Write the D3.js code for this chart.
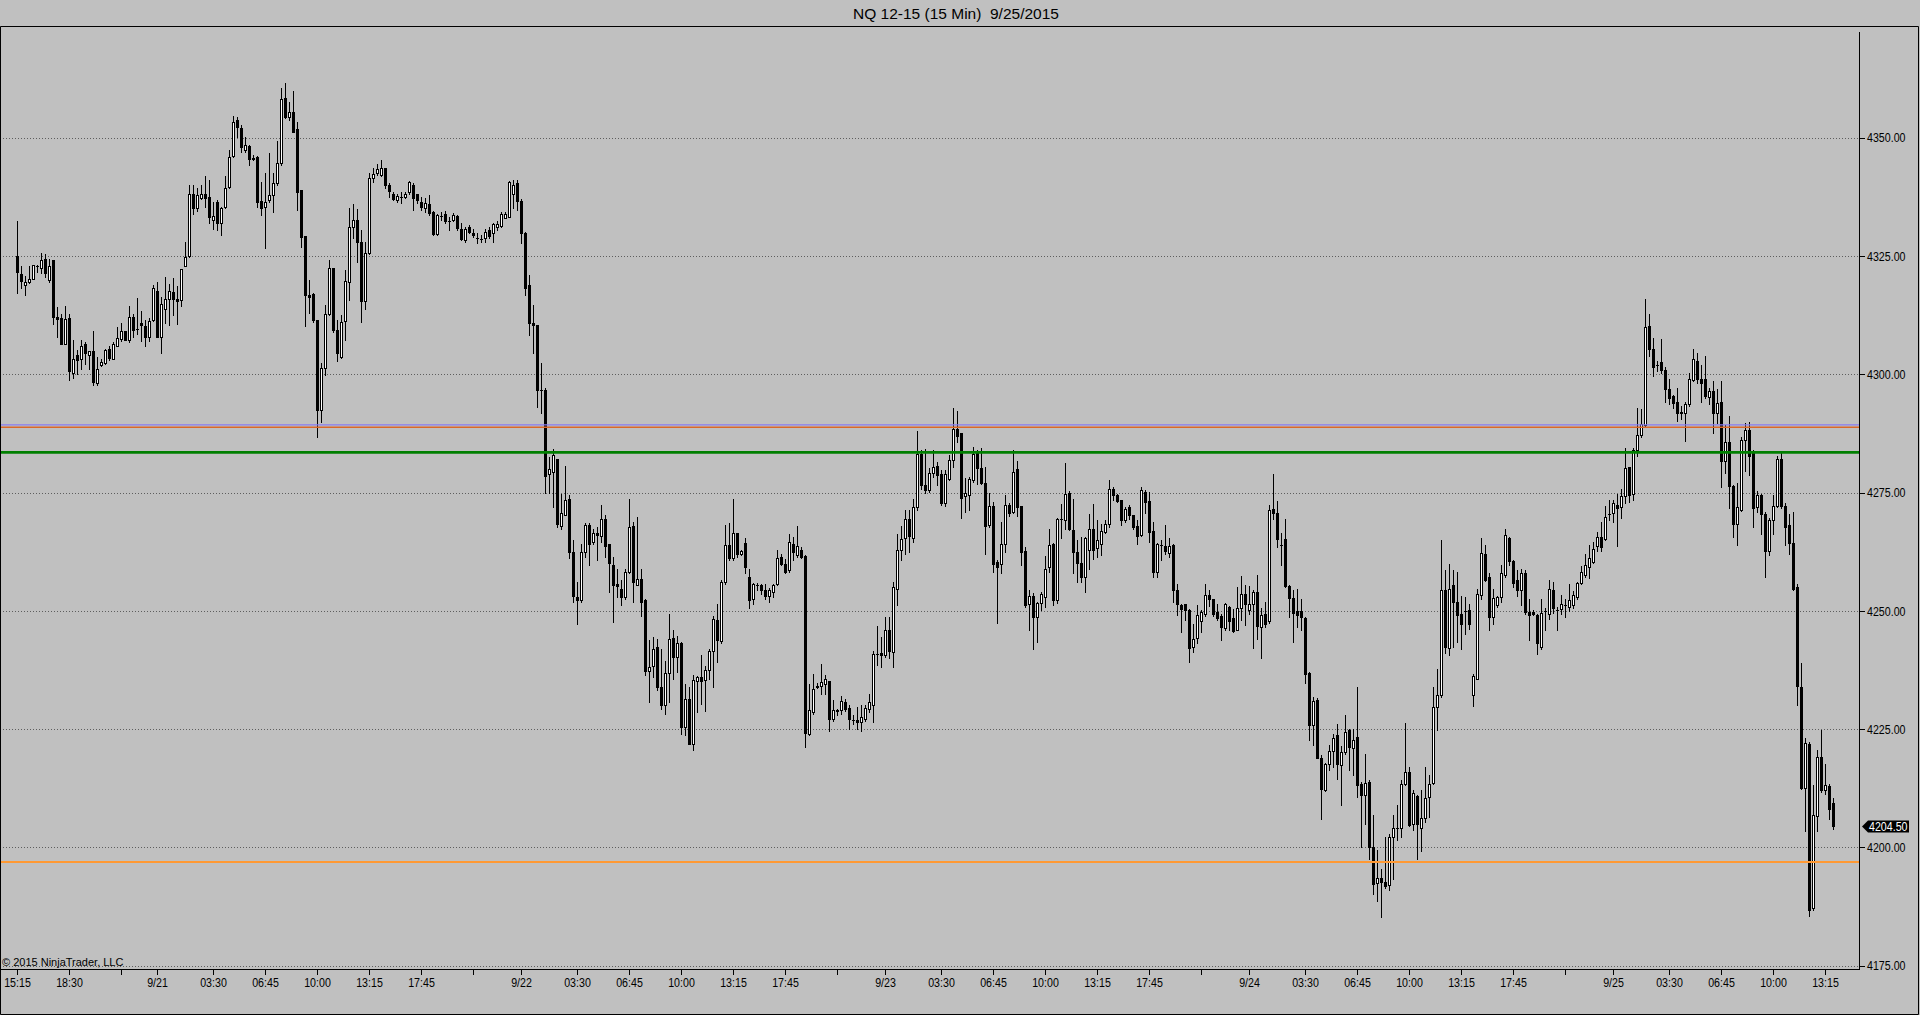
<!DOCTYPE html>
<html><head><meta charset="utf-8">
<script src="https://cdn.jsdelivr.net/npm/d3@7"></script>
<style>html,body{margin:0;padding:0;background:#c0c0c0;overflow:hidden}svg{display:block}text{white-space:pre}</style>
</head><body>
<svg id="chart" width="1920" height="1015"></svg>
<script>
const chartTitle = "NQ 12-15 (15 Min)  9/25/2015";
const copyright = "\u00A9 2015 NinjaTrader, LLC";
const lastPrice = 4204.50;
const priceTicks = [4175, 4200, 4225, 4250, 4275, 4300, 4325, 4350];
const tickBars = [0,13,26,35,49,62,75,88,101,114,126,140,153,166,179,192,205,217,231,244,257,270,283,296,308,322,335,348,361,374,387,399,413,426,439,452];
const tickLabels = ["15:15","18:30","","9/21","03:30","06:45","10:00","13:15","17:45","","9/22","03:30","06:45","10:00","13:15","17:45","","9/23","03:30","06:45","10:00","13:15","17:45","","9/24","03:30","06:45","10:00","13:15","17:45","","9/25","03:30","06:45","10:00","13:15"];
const levelValues = [4289.3, 4288.8, 4283.5, 4196.9];

const opens = [
4325.0,4321.1,4318.9,4319.4,4320.1,4322.8,4322.4,4324.4,4319.9,4324.1,
4312.1,4311.8,4306.3,4311.9,4300.3,4304.0,4303.2,4306.3,4304.0,4304.9,
4298.2,4302.0,4302.4,4305.3,4303.2,4306.0,4307.5,4309.1,4307.3,4312.1,
4309.6,4310.8,4310.2,4307.9,4311.4,4317.6,4307.8,4313.9,4315.9,4317.3,
4316.0,4315.6,4322.8,4324.9,4338.1,4335.1,4337.2,4338.2,4337.5,4332.7,
4336.5,4331.9,4335.4,4339.6,4346.2,4353.7,4352.0,4347.4,4348.3,4345.8,
4346.0,4336.6,4335.4,4336.8,4337.9,4340.4,4344.6,4358.3,4354.3,4355.4,
4351.8,4338.9,4329.2,4316.8,4317.0,4311.5,4292.5,4301.3,4312.8,4322.4,
4309.4,4303.7,4311.2,4319.6,4331.1,4332.7,4328.0,4315.4,4325.7,4341.4,
4342.5,4342.1,4343.5,4340.1,4338.2,4336.8,4337.5,4337.5,4338.5,4340.0,
4338.0,4336.5,4335.2,4336.0,4334.4,4329.6,4333.5,4333.9,4332.4,4332.6,
4333.5,4330.7,4328.4,4331.1,4329.9,4328.7,4328.5,4328.7,4330.5,4329.9,
4331.1,4331.3,4333.0,4333.3,4338.2,4340.4,4336.6,4329.8,4318.9,4310.8,
4310.4,4296.7,4296.7,4278.9,4279.4,4282.0,4267.9,4270.3,4273.6,4262.4,
4252.9,4252.2,4262.4,4268.1,4264.6,4266.5,4265.8,4269.5,4264.1,4259.6,
4255.7,4254.7,4252.9,4258.2,4267.9,4255.5,4256.7,4252.2,4237.3,4238.3,
4242.3,4234.0,4230.2,4236.8,4244.3,4240.2,4243.3,4225.4,4231.3,4221.8,
4235.2,4236.1,4235.3,4237.6,4241.5,4248.0,4243.6,4256.1,4264.0,4261.2,
4266.5,4262.0,4264.4,4257.2,4252.6,4255.5,4255.5,4254.5,4253.1,4254.0,
4255.7,4261.4,4260.0,4258.6,4264.2,4261.9,4262.8,4261.5,4224.0,4228.6,
4233.8,4234.1,4234.6,4235.2,4227.2,4229.1,4229.1,4230.8,4229.5,4227.0,
4227.0,4226.5,4227.2,4229.3,4230.2,4240.8,4241.1,4240.6,4246.0,4241.3,
4254.7,4262.8,4265.3,4269.5,4265.3,4272.0,4283.1,4276.6,4275.6,4279.2,
4280.6,4278.9,4272.8,4277.8,4281.8,4288.5,4287.5,4274.2,4274.4,4277.6,
4283.3,4280.1,4277.0,4268.1,4272.1,4260.3,4259.8,4264.1,4272.3,4270.9,
4279.9,4272.1,4262.7,4251.4,4253.1,4248.6,4251.7,4253.0,4259.3,4264.2,
4252.2,4269.5,4269.3,4274.9,4267.0,4262.5,4260.1,4257.2,4262.9,4267.4,
4263.2,4264.1,4266.7,4268.3,4275.8,4274.4,4273.4,4269.2,4272.0,4270.2,
4267.9,4266.0,4275.1,4273.2,4266.9,4258.2,4263.9,4263.7,4262.2,4263.9,
4254.5,4251.2,4251.4,4250.1,4242.4,4244.3,4247.9,4249.3,4253.3,4252.4,
4249.8,4248.9,4246.3,4250.8,4248.4,4246.0,4250.7,4253.5,4250.1,4251.4,
4254.0,4246.5,4249.3,4247.9,4271.6,4270.6,4264.0,4265.1,4255.2,4252.8,
4250.0,4249.9,4248.4,4236.9,4225.8,4231.2,4218.8,4212.2,4217.7,4220.4,
4223.7,4217.4,4220.2,4224.8,4221.1,4223.3,4213.3,4211.0,4213.8,4200.1,
4192.4,4193.6,4192.7,4192.0,4202.3,4204.2,4204.2,4213.5,4215.9,4205.0,
4210.8,4204.0,4206.3,4210.7,4213.6,4229.6,4232.2,4254.5,4242.2,4255.4,
4251.9,4249.4,4250.0,4250.1,4232.2,4235.7,4253.3,4262.1,4257.2,4248.6,
4251.2,4253.0,4257.5,4265.5,4260.6,4256.6,4254.5,4257.9,4249.8,4249.8,
4249.1,4242.4,4250.0,4249.4,4254.3,4250.1,4250.3,4251.2,4250.9,4251.2,
4252.9,4255.8,4257.6,4259.3,4260.4,4263.6,4265.6,4265.2,4270.5,4270.7,
4272.4,4272.0,4274.2,4280.4,4274.8,4284.0,4287.1,4289.3,4310.2,4305.3,
4302.0,4302.5,4300.9,4296.8,4295.4,4294.1,4292.1,4291.9,4293.7,4298.8,
4302.9,4299.1,4298.9,4295.3,4296.5,4291.8,4294.1,4281.6,4285.6,4276.3,
4268.4,4271.3,4286.2,4288.3,4283.6,4272.0,4274.4,4270.5,4262.6,4269.1,
4272.2,4282.1,4272.2,4268.1,4264.3,4255.1,4233.9,4212.6,4221.8,4187.2,
4206.7,4219.2,4212.2,4212.9,4209.4];

const highs = [
4332.4,4322.9,4320.7,4322.8,4323.0,4323.2,4325.7,4325.5,4324.4,4324.1,
4314.2,4312.8,4314.4,4312.8,4307.3,4305.1,4307.2,4306.8,4304.9,4309.1,
4303.7,4303.2,4305.4,4306.0,4306.8,4310.0,4310.8,4309.1,4314.4,4312.8,
4316.2,4313.4,4311.4,4311.8,4318.8,4319.5,4316.3,4320.5,4319.1,4320.3,
4318.6,4322.3,4328.0,4340.0,4340.0,4339.3,4340.0,4341.8,4341.1,4336.5,
4336.8,4335.4,4341.8,4347.5,4354.6,4354.4,4352.7,4350.2,4348.5,4346.3,
4346.1,4340.7,4342.5,4346.7,4342.5,4349.2,4360.4,4361.6,4357.6,4359.9,
4353.4,4338.9,4329.2,4319.9,4317.1,4311.5,4302.3,4314.6,4324.2,4322.4,
4311.5,4312.5,4322.0,4335.1,4336.0,4334.9,4330.5,4328.0,4342.5,4343.5,
4344.4,4345.3,4343.7,4340.4,4338.6,4338.2,4338.6,4338.6,4340.9,4340.4,
4338.2,4337.5,4337.2,4337.9,4334.6,4333.9,4334.4,4334.6,4333.3,4334.0,
4333.7,4331.9,4331.2,4331.5,4330.8,4329.8,4329.4,4330.8,4331.2,4332.0,
4332.3,4334.2,4334.2,4340.9,4341.1,4341.1,4337.0,4330.1,4321.0,4314.6,
4310.5,4302.3,4297.0,4282.5,4284.3,4282.0,4274.6,4280.6,4274.4,4264.9,
4256.1,4264.2,4268.6,4268.6,4267.4,4267.7,4272.3,4270.3,4264.2,4261.4,
4258.9,4256.5,4258.9,4273.6,4268.8,4269.9,4258.9,4252.6,4243.8,4244.5,
4244.1,4242.0,4239.5,4249.3,4246.0,4244.6,4243.4,4234.6,4233.9,4236.4,
4236.3,4240.6,4238.3,4242.0,4249.0,4251.5,4256.5,4268.1,4268.6,4273.7,
4266.5,4262.9,4265.3,4258.9,4255.9,4255.9,4255.7,4255.7,4254.9,4255.7,
4262.8,4262.1,4261.0,4266.3,4265.6,4267.9,4263.5,4261.7,4234.6,4236.6,
4234.8,4238.8,4236.4,4235.2,4231.1,4229.3,4232.1,4231.4,4230.0,4227.9,
4229.7,4230.0,4230.0,4232.5,4241.6,4246.9,4244.5,4248.7,4248.7,4256.1,
4266.3,4267.9,4271.3,4271.3,4273.7,4288.0,4284.0,4284.3,4280.1,4284.1,
4281.5,4279.7,4279.7,4282.9,4292.8,4292.3,4287.5,4278.0,4278.3,4284.7,
4284.1,4284.5,4280.4,4274.9,4273.0,4260.7,4268.8,4274.4,4272.7,4284.1,
4281.7,4272.1,4263.5,4254.3,4253.8,4251.9,4254.0,4261.5,4267.4,4264.4,
4269.7,4272.5,4281.3,4275.3,4273.7,4264.9,4265.6,4265.6,4270.4,4272.5,
4269.3,4268.4,4269.3,4277.6,4276.2,4274.6,4273.4,4272.0,4272.3,4270.2,
4269.2,4276.2,4275.6,4275.1,4268.8,4264.4,4264.9,4268.2,4265.5,4264.1,
4255.6,4251.4,4251.5,4250.3,4247.3,4251.2,4250.1,4255.6,4254.5,4252.6,
4251.5,4249.3,4251.7,4251.0,4250.3,4255.1,4257.3,4255.4,4255.2,4254.5,
4257.5,4250.5,4251.9,4272.3,4279.0,4273.2,4266.5,4269.5,4255.4,4254.5,
4254.7,4252.4,4248.7,4237.1,4231.8,4231.5,4219.5,4217.8,4221.6,4223.9,
4226.0,4221.4,4227.9,4225.1,4225.1,4233.9,4213.8,4219.8,4214.2,4206.8,
4199.4,4195.5,4202.2,4202.8,4206.8,4208.9,4214.3,4226.2,4217.0,4212.2,
4211.0,4212.1,4217.0,4215.3,4233.9,4237.8,4264.9,4258.7,4260.0,4258.7,
4258.2,4253.1,4253.0,4251.5,4236.7,4254.7,4265.3,4263.9,4258.0,4254.7,
4253.1,4259.6,4267.4,4265.6,4260.8,4258.6,4258.9,4258.7,4252.6,4250.1,
4249.4,4252.6,4250.5,4256.6,4256.0,4250.8,4253.4,4252.5,4255.7,4254.2,
4256.0,4259.5,4262.0,4263.9,4264.6,4266.7,4268.7,4272.2,4273.5,4273.5,
4274.6,4275.7,4284.5,4280.5,4284.5,4292.8,4292.6,4316.0,4312.8,4307.7,
4302.9,4307.5,4301.6,4298.9,4295.6,4297.0,4293.3,4294.1,4300.3,4305.3,
4304.6,4302.0,4303.8,4297.2,4298.5,4296.8,4298.5,4289.3,4291.1,4276.6,
4277.0,4286.7,4289.7,4290.0,4284.1,4275.3,4274.8,4270.9,4269.6,4274.4,
4282.7,4283.3,4272.8,4270.5,4270.9,4255.6,4238.9,4223.1,4222.2,4213.1,
4220.5,4224.9,4217.6,4213.5,4210.4];

const lows = [
4317.2,4318.3,4316.8,4319.2,4320.1,4321.6,4321.4,4320.6,4319.5,4310.6,
4307.9,4306.3,4306.3,4298.7,4299.3,4300.0,4301.2,4302.1,4301.2,4297.8,
4297.7,4301.8,4302.2,4303.0,4303.2,4306.0,4307.0,4307.3,4306.8,4307.9,
4308.6,4307.0,4306.0,4307.1,4311.3,4307.9,4304.6,4310.8,4310.4,4312.6,
4310.6,4314.4,4322.8,4324.7,4333.9,4334.6,4337.0,4335.4,4331.9,4330.8,
4330.5,4329.4,4335.1,4339.3,4346.0,4350.2,4347.0,4347.0,4344.2,4345.3,
4335.4,4333.7,4326.6,4336.5,4334.4,4340.0,4344.2,4354.1,4353.7,4351.1,
4334.7,4327.0,4310.1,4312.9,4311.1,4286.8,4290.0,4299.9,4312.5,4309.0,
4302.7,4303.4,4307.3,4315.7,4328.7,4323.8,4311.1,4313.9,4325.5,4340.7,
4342.1,4341.8,4339.3,4337.5,4336.8,4336.5,4336.1,4337.3,4338.2,4334.7,
4336.1,4334.7,4334.4,4333.7,4329.4,4329.4,4332.7,4331.9,4330.5,4332.3,
4330.5,4328.4,4328.0,4329.8,4329.1,4327.7,4328.0,4328.0,4328.7,4328.0,
4330.5,4331.2,4333.0,4333.2,4335.1,4334.7,4327.8,4316.8,4308.3,4304.4,
4293.0,4291.8,4274.9,4274.9,4272.0,4267.7,4267.4,4270.2,4261.2,4251.9,
4247.3,4251.9,4261.4,4259.6,4264.2,4260.8,4264.6,4261.4,4254.0,4247.6,
4252.9,4251.2,4252.6,4258.0,4251.9,4255.4,4249.0,4236.4,4230.7,4236.0,
4233.2,4229.3,4228.2,4230.7,4235.6,4237.1,4224.0,4223.7,4221.8,4220.5,
4228.6,4230.4,4228.9,4235.6,4233.9,4239.2,4243.1,4255.7,4260.7,4260.7,
4261.4,4261.7,4257.9,4250.5,4251.4,4254.3,4253.6,4252.6,4251.9,4252.9,
4255.4,4259.6,4257.9,4258.2,4260.7,4261.4,4261.1,4221.2,4223.7,4228.2,
4233.6,4232.5,4232.5,4224.7,4226.8,4227.9,4228.2,4228.9,4225.1,4226.1,
4225.1,4224.7,4226.8,4228.6,4226.5,4238.5,4238.1,4240.2,4240.0,4238.1,
4251.2,4260.7,4262.1,4262.4,4264.6,4271.3,4275.8,4274.9,4275.1,4278.3,
4276.6,4272.3,4272.1,4277.6,4280.4,4285.7,4269.7,4270.9,4271.3,4277.3,
4276.9,4276.8,4262.1,4267.7,4258.2,4247.4,4257.9,4262.4,4270.0,4270.7,
4270.0,4259.6,4250.8,4245.9,4242.0,4243.4,4250.1,4250.8,4258.2,4251.2,
4251.7,4265.5,4267.2,4267.0,4258.0,4256.1,4256.1,4254.0,4258.9,4261.0,
4261.4,4261.8,4266.5,4267.7,4273.4,4273.0,4268.1,4268.8,4269.5,4267.4,
4264.2,4265.8,4270.6,4264.6,4257.2,4257.2,4260.7,4262.1,4261.3,4251.9,
4249.1,4245.5,4248.0,4239.2,4241.3,4243.1,4245.5,4248.9,4251.0,4248.9,
4248.0,4243.9,4245.9,4245.9,4245.5,4245.9,4248.1,4247.0,4249.4,4242.2,
4244.1,4240.1,4246.6,4247.4,4269.5,4263.4,4259.6,4255.1,4248.7,4243.4,
4246.6,4246.0,4234.8,4222.8,4221.6,4218.8,4206.1,4211.9,4216.3,4217.0,
4214.5,4208.9,4219.8,4216.3,4215.2,4210.7,4200.1,4205.0,4197.6,4190.2,
4188.7,4185.3,4191.5,4191.1,4193.4,4201.5,4202.1,4213.1,4204.5,4203.6,
4197.6,4199.2,4205.4,4206.4,4213.5,4224.8,4231.8,4241.0,4240.6,4242.4,
4243.4,4242.0,4245.2,4246.2,4229.8,4235.5,4252.6,4256.3,4245.9,4247.3,
4250.8,4251.9,4257.2,4259.6,4255.1,4253.1,4251.2,4249.4,4243.8,4249.1,
4240.8,4242.0,4245.9,4248.2,4249.5,4246.0,4249.4,4248.8,4249.9,4250.6,
4252.5,4255.6,4257.1,4256.9,4260.1,4262.6,4262.6,4264.9,4269.2,4268.7,
4263.7,4269.6,4272.7,4273.1,4273.5,4282.7,4286.7,4288.9,4303.8,4299.6,
4300.7,4300.3,4294.1,4293.7,4292.8,4290.2,4290.6,4286.0,4293.3,4298.5,
4298.1,4294.1,4295.0,4293.7,4287.6,4289.7,4276.2,4279.2,4271.8,4265.6,
4263.9,4271.1,4279.5,4278.8,4267.8,4270.9,4266.3,4257.1,4261.7,4266.3,
4272.0,4271.8,4263.9,4262.1,4254.3,4230.1,4212.4,4203.4,4185.5,4186.8,
4203.4,4211.7,4211.3,4206.0,4203.9];

const closes = [
4321.6,4319.7,4319.6,4320.1,4323.0,4322.8,4324.2,4321.4,4322.9,4312.1,
4311.7,4306.3,4311.6,4300.6,4303.3,4303.1,4306.0,4304.5,4304.9,4298.4,
4301.2,4302.5,4305.2,4303.4,4306.3,4307.7,4309.1,4307.3,4312.1,4309.3,
4309.6,4310.4,4307.9,4311.2,4318.3,4307.9,4314.9,4315.9,4317.7,4316.0,
4315.4,4322.3,4324.8,4338.0,4335.1,4337.9,4338.2,4337.2,4333.2,4333.5,
4331.9,4335.1,4339.3,4346.0,4353.4,4352.3,4348.1,4348.5,4345.6,4345.6,
4336.5,4335.1,4336.5,4337.9,4340.4,4344.6,4358.2,4354.4,4355.4,4351.3,
4338.6,4329.1,4316.8,4316.3,4311.5,4292.5,4301.3,4312.7,4322.4,4309.4,
4304.4,4311.1,4319.8,4331.2,4332.7,4328.0,4315.4,4325.6,4341.4,4342.3,
4343.4,4343.7,4340.1,4338.8,4337.0,4337.7,4337.5,4338.1,4340.7,4337.3,
4336.8,4335.4,4336.1,4334.0,4329.6,4333.7,4333.5,4332.3,4332.4,4333.7,
4331.0,4328.6,4330.6,4330.1,4329.4,4328.7,4328.5,4330.0,4329.2,4331.8,
4331.8,4333.8,4333.9,4340.6,4340.0,4336.7,4329.8,4318.2,4310.8,4310.5,
4296.7,4296.7,4278.5,4279.9,4282.9,4268.3,4270.6,4273.4,4262.4,4253.1,
4252.2,4262.4,4268.1,4264.2,4266.5,4266.1,4269.5,4263.7,4260.2,4255.4,
4255.2,4252.9,4258.2,4267.7,4256.1,4256.8,4251.9,4237.3,4238.1,4242.0,
4233.9,4230.0,4236.8,4244.1,4240.2,4243.3,4225.4,4231.4,4221.9,4235.3,
4236.1,4235.2,4237.4,4241.5,4248.3,4243.9,4256.1,4264.0,4261.2,4266.5,
4262.0,4262.7,4259.3,4252.2,4255.7,4255.5,4254.5,4253.1,4254.3,4255.4,
4261.2,4260.0,4258.2,4264.6,4262.4,4263.6,4261.4,4224.2,4229.0,4233.5,
4234.1,4235.0,4235.6,4227.2,4229.0,4228.8,4230.9,4229.3,4227.2,4227.0,
4226.5,4227.5,4229.5,4230.7,4240.9,4240.8,4240.6,4245.9,4241.5,4255.0,
4262.8,4265.1,4269.5,4265.8,4272.0,4283.1,4276.6,4275.6,4279.2,4280.4,
4278.7,4272.8,4278.9,4281.8,4288.5,4286.9,4273.9,4274.9,4277.8,4283.1,
4280.1,4277.0,4267.9,4272.1,4260.0,4259.3,4264.1,4272.3,4270.7,4279.4,
4272.0,4262.4,4251.2,4253.1,4248.8,4251.7,4253.5,4258.9,4263.9,4252.2,
4269.5,4269.5,4274.6,4267.2,4262.5,4260.1,4257.2,4265.3,4267.4,4262.9,
4264.9,4266.8,4268.3,4275.8,4274.4,4273.2,4269.3,4271.6,4270.2,4267.7,
4265.8,4275.6,4273.0,4266.7,4258.2,4264.2,4263.9,4262.7,4263.7,4254.4,
4251.4,4250.3,4250.1,4242.2,4244.1,4249.1,4249.8,4253.3,4252.4,4249.3,
4248.4,4246.5,4251.4,4247.9,4245.8,4250.5,4253.5,4251.4,4251.4,4254.0,
4246.7,4249.1,4247.3,4271.3,4270.7,4265.1,4264.0,4255.2,4252.8,4249.6,
4249.1,4248.6,4236.7,4225.8,4231.0,4219.0,4212.4,4217.7,4220.4,4223.2,
4217.7,4220.2,4224.4,4221.2,4222.8,4213.1,4211.0,4213.6,4200.1,4192.3,
4193.6,4192.7,4191.8,4202.3,4204.2,4204.2,4213.5,4215.9,4204.7,4211.4,
4204.9,4206.3,4210.5,4213.5,4229.7,4232.2,4254.5,4242.4,4254.7,4251.9,
4249.1,4247.2,4250.0,4247.3,4236.2,4253.6,4262.2,4256.6,4248.6,4252.8,
4253.0,4258.0,4266.0,4260.6,4255.8,4254.4,4257.9,4249.8,4249.1,4249.4,
4243.1,4249.6,4250.0,4254.7,4250.5,4250.1,4251.4,4251.2,4252.3,4253.4,
4255.8,4258.2,4259.7,4261.1,4263.0,4265.6,4263.5,4269.9,4270.5,4272.7,
4271.8,4274.2,4280.1,4274.4,4284.0,4287.1,4289.5,4309.9,4305.3,4301.6,
4302.0,4300.9,4296.8,4295.0,4294.0,4291.8,4291.8,4293.7,4298.9,4303.2,
4298.9,4298.1,4295.4,4296.5,4291.8,4293.9,4281.6,4285.6,4276.3,4268.4,
4272.0,4286.2,4288.3,4282.7,4271.8,4274.4,4270.5,4262.6,4269.3,4272.2,
4282.1,4272.2,4267.8,4264.3,4254.7,4234.1,4212.6,4222.0,4186.8,4206.9,
4219.2,4212.2,4213.2,4208.2,4204.5];

// ---------- drawing ----------
const W = 1920, H = 1015;
const axisX = 1859;          // price axis line
const axisY = 969;           // time axis line
const font = "'Liberation Sans',Arial,sans-serif";
const narrowScale = 0.82;    // axis labels use a condensed face
const levelStyles = [
  {color:"#8a7cf0", width:1.4},
  {color:"#d9682a", width:1.6},
  {color:"#007f00", width:2.6},
  {color:"#ff9933", width:2}
];

const svg = d3.select("#chart");
svg.append("rect").attr("width", W).attr("height", H).attr("fill", "#c0c0c0");

const n = closes.length;
const x = d3.scaleLinear().domain([0, n - 1]).range([17, 17 + 4 * (n - 1)]);
const y = d3.scaleLinear().domain([4175, 4350]).range([965.7, 137.7]);
const snap = v => Math.round(v) + 0.5;

function narrowText(g, tx, ty, str, anchor, fill) {
  g.append("text")
    .attr("transform", `translate(${tx},${ty}) scale(${narrowScale},1)`)
    .attr("text-anchor", anchor).attr("font-family", font).attr("font-size", 13)
    .attr("fill", fill).text(str);
}

// title
svg.append("text").attr("x", 956).attr("y", 18.5).attr("text-anchor", "middle")
  .attr("font-family", font).attr("font-size", 15.5).attr("fill", "#000").text(chartTitle);

// grid lines
svg.append("g").selectAll("line").data(priceTicks).join("line")
  .attr("x1", 0).attr("x2", axisX).attr("y1", d => snap(y(d))).attr("y2", d => snap(y(d)))
  .attr("stroke", "#5e5e5e").attr("stroke-width", 1).attr("stroke-dasharray", "1,2");

// copyright
svg.append("text").attr("x", 2).attr("y", 966).attr("font-family", font)
  .attr("font-size", 11).attr("fill", "#000").text(copyright);

// candles
const bars = d3.range(n).map(i => ({i, o: opens[i], h: Math.max(highs[i], opens[i], closes[i]),
  l: Math.min(lows[i], opens[i], closes[i]), c: closes[i]}));
const gC = svg.append("g");
gC.selectAll("line.wick").data(bars).join("line").attr("class", "wick")
  .attr("x1", d => Math.round(x(d.i)) + 0.5).attr("x2", d => Math.round(x(d.i)) + 0.5)
  .attr("y1", d => Math.round(y(d.h))).attr("y2", d => Math.round(y(d.l)) + 1)
  .attr("stroke", "#000").attr("stroke-width", 1);
gC.selectAll("rect.body").data(bars).join("rect").attr("class", "body")
  .each(function(d) {
    const cx = Math.round(x(d.i));
    const t = Math.round(y(Math.max(d.o, d.c)));
    const b = Math.round(y(Math.min(d.o, d.c)));
    const el = d3.select(this);
    if (d.c > d.o && b - t >= 2) {
      el.attr("x", cx - 0.5).attr("y", t + 0.5).attr("width", 2).attr("height", b - t)
        .attr("fill", "#fff").attr("stroke", "#000").attr("stroke-width", 1);
    } else {
      el.attr("x", cx - 1).attr("y", t).attr("width", 3).attr("height", Math.max(1, b - t + 1))
        .attr("fill", "#000");
    }
  });

// level lines
svg.append("g").selectAll("line").data(levelValues).join("line")
  .attr("x1", 0).attr("x2", axisX).attr("y1", d => y(d)).attr("y2", d => y(d))
  .attr("stroke", (d, i) => levelStyles[i].color).attr("stroke-width", (d, i) => levelStyles[i].width);

// price axis
const gY = svg.append("g");
gY.append("line").attr("x1", axisX + 0.5).attr("x2", axisX + 0.5).attr("y1", 32).attr("y2", axisY + 1)
  .attr("stroke", "#000");
gY.selectAll("line.t").data(priceTicks).join("line").attr("class", "t")
  .attr("x1", axisX).attr("x2", axisX + 6).attr("y1", d => snap(y(d))).attr("y2", d => snap(y(d)))
  .attr("stroke", "#000");
priceTicks.forEach(v => narrowText(gY, axisX + 8, y(v) + 4.7, d3.format(".2f")(v), "start", "#000"));

// time axis
const gX = svg.append("g");
gX.append("line").attr("x1", 0).attr("x2", axisX + 1).attr("y1", axisY + 0.5).attr("y2", axisY + 0.5)
  .attr("stroke", "#000");
gX.selectAll("line.t").data(tickBars).join("line").attr("class", "t")
  .attr("x1", d => Math.round(x(d)) + 0.5).attr("x2", d => Math.round(x(d)) + 0.5)
  .attr("y1", axisY).attr("y2", axisY + 6).attr("stroke", "#000");
tickBars.forEach((b, i) => narrowText(gX, Math.round(x(b)) + 0.5, 987, tickLabels[i], "middle", "#000"));

// last price marker
const ly = Math.round(y(lastPrice)) + 0.5;
svg.append("path")
  .attr("d", `M${axisX + 3},${ly} L${axisX + 9},${ly - 6} L${axisX + 50},${ly - 6} L${axisX + 50},${ly + 6} L${axisX + 9},${ly + 6} Z`)
  .attr("fill", "#000");
narrowText(svg, axisX + 10, ly + 4.6, d3.format(".2f")(lastPrice), "start", "#fff");

// frame
svg.append("path").attr("d", "M0.5,1014.5 V26.5 H1918.5 V1014.5 H0.5")
  .attr("fill", "none").attr("stroke", "#000").attr("stroke-width", 1);
</script>
</body></html>
